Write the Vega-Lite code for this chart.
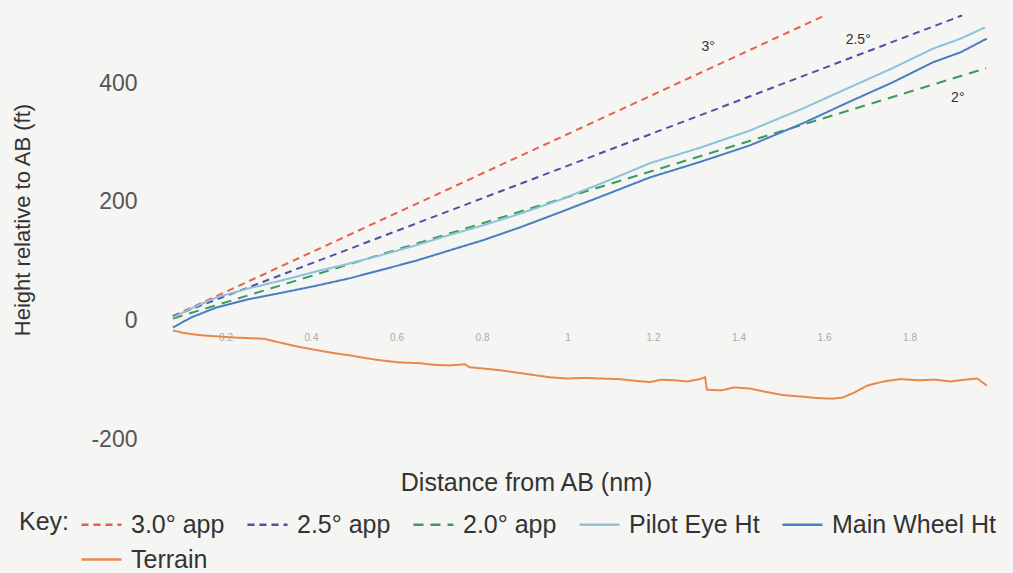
{
  "$schema": "https://vega.github.io/schema/vega-lite/v6.json",
  "width": 855,
  "height": 439,
  "autosize": {"type": "none"},
  "padding": {"left": 140, "top": 0, "right": 18, "bottom": 134},
  "background": "#f5f5f3",
  "config": {
    "view": {"stroke": null},
    "font": "Liberation Sans",
    "legend": {
      "orient": "none",
      "legendX": -121,
      "legendY": 503,
      "direction": "horizontal",
      "columns": 5,
      "titleOrient": "left",
      "titleAnchor": "start",
      "titleBaseline": "line-top",
      "titleLineHeight": 40,
      "titleFontSize": 25,
      "titleFontWeight": "normal",
      "titleColor": "#333333",
      "titlePadding": 10,
      "labelFontSize": 25,
      "labelColor": "#333333",
      "labelLimit": 300,
      "symbolType": "stroke",
      "symbolSize": 1600,
      "symbolStrokeWidth": 2.5,
      "columnPadding": 17,
      "rowPadding": 0,
      "labelOffset": 8
    }
  },
  "datasets": {
    "lines": [
      {"series": "3.0° app", "d": 0.077, "h": 7},
      {"series": "3.0° app", "d": 1.602, "h": 514},
      {"series": "2.5° app", "d": 0.077, "h": 7},
      {"series": "2.5° app", "d": 1.923, "h": 514},
      {"series": "2.0° app", "d": 0.077, "h": 3},
      {"series": "2.0° app", "d": 1.979, "h": 425},
      {"series": "Pilot Eye Ht", "d": 0.077, "h": 5},
      {"series": "Pilot Eye Ht", "d": 0.12, "h": 20},
      {"series": "Pilot Eye Ht", "d": 0.18, "h": 39},
      {"series": "Pilot Eye Ht", "d": 0.25, "h": 53},
      {"series": "Pilot Eye Ht", "d": 0.335, "h": 68},
      {"series": "Pilot Eye Ht", "d": 0.41, "h": 82},
      {"series": "Pilot Eye Ht", "d": 0.491, "h": 96},
      {"series": "Pilot Eye Ht", "d": 0.57, "h": 111},
      {"series": "Pilot Eye Ht", "d": 0.648, "h": 127},
      {"series": "Pilot Eye Ht", "d": 0.72, "h": 143},
      {"series": "Pilot Eye Ht", "d": 0.802, "h": 160},
      {"series": "Pilot Eye Ht", "d": 0.89, "h": 180},
      {"series": "Pilot Eye Ht", "d": 0.982, "h": 203},
      {"series": "Pilot Eye Ht", "d": 1.09, "h": 234},
      {"series": "Pilot Eye Ht", "d": 1.193, "h": 265},
      {"series": "Pilot Eye Ht", "d": 1.31, "h": 291},
      {"series": "Pilot Eye Ht", "d": 1.427, "h": 320},
      {"series": "Pilot Eye Ht", "d": 1.55, "h": 357},
      {"series": "Pilot Eye Ht", "d": 1.661, "h": 393},
      {"series": "Pilot Eye Ht", "d": 1.76, "h": 425},
      {"series": "Pilot Eye Ht", "d": 1.855, "h": 458},
      {"series": "Pilot Eye Ht", "d": 1.92, "h": 475},
      {"series": "Pilot Eye Ht", "d": 1.977, "h": 494},
      {"series": "Main Wheel Ht", "d": 0.077, "h": -12},
      {"series": "Main Wheel Ht", "d": 0.12, "h": 5},
      {"series": "Main Wheel Ht", "d": 0.18, "h": 22},
      {"series": "Main Wheel Ht", "d": 0.25, "h": 35},
      {"series": "Main Wheel Ht", "d": 0.335, "h": 47},
      {"series": "Main Wheel Ht", "d": 0.41, "h": 58},
      {"series": "Main Wheel Ht", "d": 0.491, "h": 71},
      {"series": "Main Wheel Ht", "d": 0.57, "h": 86},
      {"series": "Main Wheel Ht", "d": 0.648, "h": 101},
      {"series": "Main Wheel Ht", "d": 0.72, "h": 117},
      {"series": "Main Wheel Ht", "d": 0.802, "h": 135},
      {"series": "Main Wheel Ht", "d": 0.89, "h": 157},
      {"series": "Main Wheel Ht", "d": 0.982, "h": 182},
      {"series": "Main Wheel Ht", "d": 1.09, "h": 212},
      {"series": "Main Wheel Ht", "d": 1.193, "h": 241},
      {"series": "Main Wheel Ht", "d": 1.31, "h": 267},
      {"series": "Main Wheel Ht", "d": 1.427, "h": 295},
      {"series": "Main Wheel Ht", "d": 1.55, "h": 332},
      {"series": "Main Wheel Ht", "d": 1.661, "h": 369},
      {"series": "Main Wheel Ht", "d": 1.76, "h": 401},
      {"series": "Main Wheel Ht", "d": 1.855, "h": 435},
      {"series": "Main Wheel Ht", "d": 1.92, "h": 452},
      {"series": "Main Wheel Ht", "d": 1.981, "h": 475},
      {"series": "Terrain", "d": 0.077, "h": -17},
      {"series": "Terrain", "d": 0.1, "h": -21},
      {"series": "Terrain", "d": 0.14, "h": -25},
      {"series": "Terrain", "d": 0.18, "h": -27},
      {"series": "Terrain", "d": 0.22, "h": -29},
      {"series": "Terrain", "d": 0.257, "h": -30},
      {"series": "Terrain", "d": 0.29, "h": -31},
      {"series": "Terrain", "d": 0.33, "h": -38},
      {"series": "Terrain", "d": 0.374, "h": -45},
      {"series": "Terrain", "d": 0.42, "h": -51},
      {"series": "Terrain", "d": 0.46, "h": -56},
      {"series": "Terrain", "d": 0.491, "h": -59},
      {"series": "Terrain", "d": 0.53, "h": -64},
      {"series": "Terrain", "d": 0.57, "h": -68},
      {"series": "Terrain", "d": 0.608, "h": -71},
      {"series": "Terrain", "d": 0.65, "h": -72},
      {"series": "Terrain", "d": 0.69, "h": -75},
      {"series": "Terrain", "d": 0.725, "h": -76},
      {"series": "Terrain", "d": 0.76, "h": -74},
      {"series": "Terrain", "d": 0.77, "h": -79},
      {"series": "Terrain", "d": 0.8, "h": -81},
      {"series": "Terrain", "d": 0.842, "h": -84},
      {"series": "Terrain", "d": 0.88, "h": -88},
      {"series": "Terrain", "d": 0.92, "h": -92},
      {"series": "Terrain", "d": 0.959, "h": -96},
      {"series": "Terrain", "d": 1.0, "h": -98},
      {"series": "Terrain", "d": 1.04, "h": -97},
      {"series": "Terrain", "d": 1.076, "h": -98},
      {"series": "Terrain", "d": 1.12, "h": -99},
      {"series": "Terrain", "d": 1.16, "h": -102},
      {"series": "Terrain", "d": 1.193, "h": -104},
      {"series": "Terrain", "d": 1.22, "h": -100},
      {"series": "Terrain", "d": 1.25, "h": -101},
      {"series": "Terrain", "d": 1.28, "h": -103},
      {"series": "Terrain", "d": 1.31, "h": -99},
      {"series": "Terrain", "d": 1.322, "h": -96},
      {"series": "Terrain", "d": 1.326, "h": -117},
      {"series": "Terrain", "d": 1.36, "h": -118},
      {"series": "Terrain", "d": 1.39, "h": -113},
      {"series": "Terrain", "d": 1.427, "h": -115},
      {"series": "Terrain", "d": 1.46, "h": -120},
      {"series": "Terrain", "d": 1.504, "h": -126},
      {"series": "Terrain", "d": 1.54, "h": -128},
      {"series": "Terrain", "d": 1.584, "h": -131},
      {"series": "Terrain", "d": 1.62, "h": -132},
      {"series": "Terrain", "d": 1.644, "h": -130},
      {"series": "Terrain", "d": 1.67, "h": -122},
      {"series": "Terrain", "d": 1.701, "h": -110},
      {"series": "Terrain", "d": 1.74, "h": -103},
      {"series": "Terrain", "d": 1.778, "h": -99},
      {"series": "Terrain", "d": 1.82, "h": -101},
      {"series": "Terrain", "d": 1.86, "h": -100},
      {"series": "Terrain", "d": 1.895, "h": -103},
      {"series": "Terrain", "d": 1.93, "h": -100},
      {"series": "Terrain", "d": 1.958, "h": -98},
      {"series": "Terrain", "d": 1.981, "h": -110}
    ],
    "labels": [
      {"label": "3°", "d": 1.329, "h": 460},
      {"label": "2.5°", "d": 1.68, "h": 472},
      {"label": "2°", "d": 1.913, "h": 374}
    ]
  },
  "layer": [
    {
      "data": {"name": "lines"},
      "mark": {"type": "line", "strokeWidth": 2},
      "encoding": {
        "x": {
          "field": "d",
          "type": "quantitative",
          "scale": {"domain": [0, 2.0], "nice": false, "zero": false},
          "axis": {
            "title": "Distance from AB (nm)",
            "titleFontSize": 25,
            "titleFontWeight": "normal",
            "titleColor": "#333333",
            "titleX": 386,
            "titleY": 162,
            "titleAlign": "center",
            "titleBaseline": "middle",
            "offset": -118.5,
            "values": [0.2, 0.4, 0.6, 0.8, 1, 1.2, 1.4, 1.6, 1.8],
            "format": "~g",
            "labelFontSize": 10,
            "labelColor": "#aaaaaa",
            "labelPadding": 12,
            "ticks": false,
            "domain": false,
            "grid": false
          }
        },
        "y": {
          "field": "h",
          "type": "quantitative",
          "scale": {"domain": [-200, 540], "nice": false, "zero": false},
          "axis": {
            "title": "Height relative to AB (ft)",
            "titleFontSize": 22,
            "titleFontWeight": "normal",
            "titleColor": "#333333",
            "titleX": -118,
            "titleBaseline": "middle",
            "values": [-200, 0, 200, 400],
            "labelExpr": "'' + datum.value",
            "labelFontSize": 23,
            "labelColor": "#555555",
            "labelPadding": 3,
            "labelFlush": false,
            "ticks": false,
            "domain": false,
            "grid": false
          }
        },
        "color": {
          "field": "series",
          "type": "nominal",
          "sort": ["3.0° app", "2.5° app", "2.0° app", "Pilot Eye Ht", "Main Wheel Ht", "Terrain"],
          "scale": {
            "domain": ["3.0° app", "2.5° app", "2.0° app", "Pilot Eye Ht", "Main Wheel Ht", "Terrain"],
            "range": ["#e8604c", "#4b52a6", "#3f9a5c", "#8cc2da", "#4a7ec2", "#e8894c"]
          },
          "legend": {"title": "Key:"}
        },
        "strokeDash": {
          "field": "series",
          "type": "nominal",
          "sort": ["3.0° app", "2.5° app", "2.0° app", "Pilot Eye Ht", "Main Wheel Ht", "Terrain"],
          "scale": {
            "domain": ["3.0° app", "2.5° app", "2.0° app", "Pilot Eye Ht", "Main Wheel Ht", "Terrain"],
            "range": [[7, 5], [7, 5], [10, 7], [1, 0], [1, 0], [1, 0]]
          },
          "legend": {"title": "Key:"}
        }
      }
    },
    {
      "data": {"name": "labels"},
      "mark": {"type": "text", "fontSize": 14, "color": "#333333", "align": "center", "baseline": "middle"},
      "encoding": {
        "x": {"field": "d", "type": "quantitative"},
        "y": {"field": "h", "type": "quantitative"},
        "text": {"field": "label"}
      }
    }
  ]
}
